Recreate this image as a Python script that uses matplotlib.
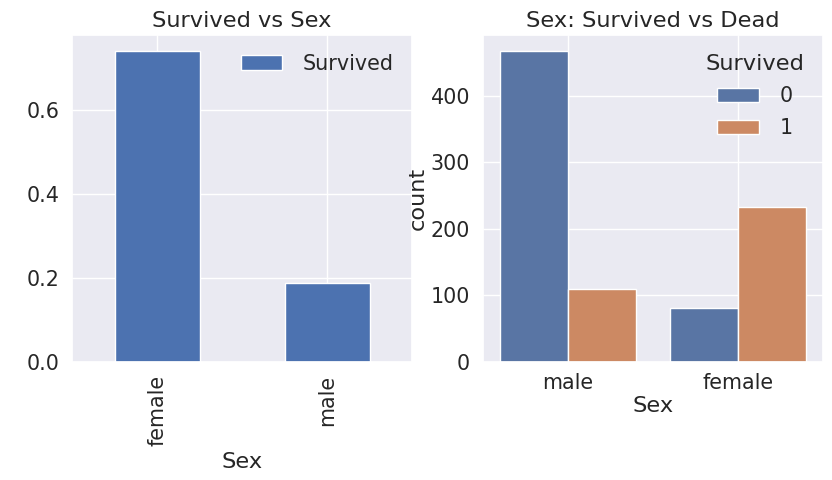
import matplotlib
matplotlib.use("Agg")
import matplotlib.pyplot as plt
import seaborn as sns
import numpy as np

sns.set_theme(style="darkgrid", font_scale=1.35)
plt.rcParams['font.family'] = ['DejaVu Sans']

# survival rate by sex
sex_rate = ['female', 'male']
rate = [0.742, 0.189]

# counts by sex and survived
sex_cnt = ['male', 'female']
dead = [468, 81]
alive = [109, 233]

fig, (ax1, ax2) = plt.subplots(1, 2, figsize=(8.32, 4.8), dpi=100)

x = np.arange(len(sex_rate))
ax1.bar(x, rate, width=0.5, color='#4c72b0', label='Survived')
ax1.set_xticks(x)
ax1.set_xticklabels(sex_rate, rotation=90)
ax1.set_xlim(-0.5, 1.5)
ax1.set_ylim(0, max(rate) * 1.05)
ax1.set_yticks([0.0, 0.2, 0.4, 0.6])
ax1.set_xlabel('Sex')
ax1.set_title('Survived vs Sex')
ax1.legend(frameon=False, loc='upper right', handletextpad=1.0)

x2 = np.arange(len(sex_cnt))
ax2.bar(x2 - 0.2, dead, width=0.4, color='#5975a4', label='0')
ax2.bar(x2 + 0.2, alive, width=0.4, color='#cc8963', label='1')
ax2.set_xticks(x2)
ax2.set_xticklabels(sex_cnt)
ax2.set_xlim(-0.5, 1.5)
ax2.set_ylim(0, max(dead) * 1.05)
ax2.set_yticks([0, 100, 200, 300, 400])
ax2.set_xlabel('Sex', labelpad=2)
ax2.set_ylabel('count', labelpad=2)
ax2.set_title('Sex: Survived vs Dead')
ax2.tick_params(axis='x', pad=2)
ax2.legend(title='Survived', frameon=False, loc='upper right',
           handletextpad=1.0, labelspacing=0.6)

plt.subplots_adjust(left=0.087, right=0.989, top=0.927, bottom=0.246, wspace=0.21)
fig.savefig('out.png')
